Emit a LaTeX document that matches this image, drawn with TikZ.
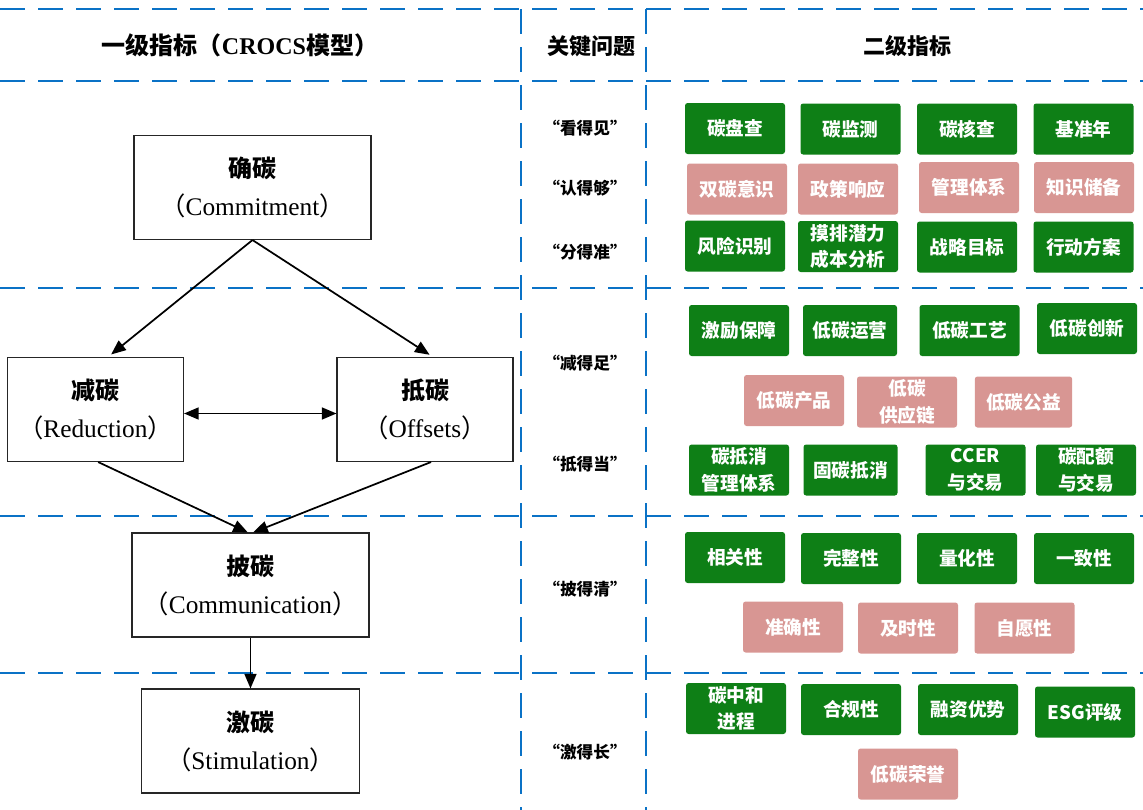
\documentclass[tikz,border=0pt]{standalone}
\usepackage{fontspec}
\setmainfont{Liberation Serif}
\newfontfamily\cjk{Noto Sans CJK SC}
\usetikzlibrary{arrows.meta}
\definecolor{lineblue}{RGB}{10,114,198}
\definecolor{gfill}{RGB}{14,127,22}
\definecolor{pfill}{RGB}{216,150,147}
\newcommand\zhb{\cjk\bfseries}
\newcommand\lpar{{\cjk （}}
\newcommand\rpar{{\cjk ）}}
\begin{document}
\begin{tikzpicture}[x=0.75pt,y=-0.75pt,
  dline/.style={draw=lineblue, line width=1.6pt, dash pattern=on 18.75pt off 9.75pt},
  lbox/.style={draw=black!85, line width=0.8pt, minimum width=#1, minimum height=78pt,
    align=center, inner sep=0pt, font=\fontsize{19}{28.5}\selectfont},
  gbox/.style={fill=gfill, rounded corners=2pt, minimum width=75pt, minimum height=38.25pt,
    align=center, inner sep=0pt, text=white, font=\zhb\fontsize{14}{20}\selectfont},
  pbox/.style={gbox, fill=pfill},
  qlab/.style={font=\zhb\fontsize{12.5}{15}\selectfont},
  head/.style={font=\zhb\fontsize{16.5}{20}\selectfont},
  arr/.style={line width=1.3pt, -{Triangle[length=11pt,width=9pt]}},
  dbl/.style={line width=1.3pt, {Triangle[length=11pt,width=9pt]}-{Triangle[length=11pt,width=9pt]}}
]
\useasboundingbox (0,0) rectangle (1143,810);

% dashed grid
\foreach \yy in {9,81,288,516,673}{\draw[dline] (0,\yy) -- (1143,\yy);}
\draw[dline] (521,9) -- (521,810);
\draw[dline] (646,9) -- (646,810);

% headers
\node[head, font=\zhb\fontsize{18}{22}\selectfont] (h1) at (240,45) {一级指标（{\rmfamily\bfseries CROCS}模型）};
\node[head] (h2) at (591,46) {关键问题};
\node[head] (h3) at (907.5,46) {二级指标};

% left CROCS model
\node[lbox=177.75pt] (C) at (252.5,187.5) {{\zhb\fontsize{18}{28.5}\selectfont 确碳}\\\lpar Commitment\rpar};
\node[lbox=132pt] (R) at (95.5,409.5) {{\zhb\fontsize{18}{28.5}\selectfont 减碳}\\\lpar Reduction\rpar};
\node[lbox=132pt] (O) at (425,409.5) {{\zhb\fontsize{18}{28.5}\selectfont 抵碳}\\\lpar Offsets\rpar};
\node[lbox=177.75pt] (M) at (250.5,585) {{\zhb\fontsize{18}{28.5}\selectfont 披碳}\\\lpar Communication\rpar};
\node[lbox=163.5pt] (S) at (250.5,741) {{\zhb\fontsize{18}{28.5}\selectfont 激碳}\\\lpar Stimulation\rpar};

\draw[arr, shorten >=3pt] (C.south) -- ([xshift=9.4pt]R.north);
\draw[arr, shorten >=3pt] (C.south) -- ([xshift=6pt]O.north);
\draw[dbl] ([yshift=-3pt]R.east) -- ([yshift=-3pt]O.west);
\draw[arr] ([xshift=2pt]R.south) -- ([xshift=-2pt]M.north);
\draw[arr] ([xshift=4.5pt]O.south) -- ([xshift=2pt]M.north);
\draw[arr] (M.south) -- (S.north);

% key questions
\node[qlab] (q1) at (585,128) {“看得见”};
\node[qlab] (q2) at (585,188) {“认得够”};
\node[qlab] (q3) at (585,252) {“分得准”};
\node[qlab] (q4) at (585,363) {“减得足”};
\node[qlab] (q5) at (585,464) {“抵得当”};
\node[qlab] (q6) at (585,589) {“披得清”};
\node[qlab] (q7) at (585,752) {“激得长”};

% section 1
\node[gbox] (a1) at (735,128.5) {碳盘查};
\node[gbox] (a2) at (850.5,129) {碳监测};
\node[gbox] (a3) at (967,129) {碳核查};
\node[gbox] (a4) at (1083.5,129) {基准年};
\node[pbox] (b1) at (737,189) {双碳意识};
\node[pbox] (b2) at (848,189) {政策响应};
\node[pbox] (b3) at (969,187.5) {管理体系};
\node[pbox] (b4) at (1084,187.5) {知识储备};
\node[gbox] (c1) at (735,246) {风险识别};
\node[gbox] (c2) at (848,246.5) {摸排潜力\\成本分析};
\node[gbox] (c3) at (967,247) {战略目标};
\node[gbox] (c4) at (1083.5,247) {行动方案};

% section 2
\node[gbox] (d1) at (739,330.5) {激励保障};
\node[gbox, minimum width=70.5pt] (d2) at (850,330.5) {低碳运营};
\node[gbox] (d3) at (969.5,330.5) {低碳工艺};
\node[gbox] (d4) at (1087,328.5) {低碳创新};
\node[pbox] (e1) at (794,400.5) {低碳产品};
\node[pbox] (e2) at (907,402) {低碳\\供应链};
\node[pbox, minimum width=73pt] (e3) at (1023.5,402) {低碳公益};
\node[gbox] (f1) at (739,470) {碳抵消\\管理体系};
\node[gbox, minimum width=70.5pt] (f2) at (850.5,470) {固碳抵消};
\node[gbox] (f3) at (975.5,470) {CCER\\与交易};
\node[gbox] (f4) at (1086,470) {碳配额\\与交易};

% section 3
\node[gbox] (g1) at (735,557.5) {相关性};
\node[gbox] (g2) at (851,558.5) {完整性};
\node[gbox] (g3) at (967,558.5) {量化性};
\node[gbox] (g4) at (1084,558.5) {一致性};
\node[pbox] (h4) at (793,627) {准确性};
\node[pbox] (h5) at (908,628) {及时性};
\node[pbox] (h6) at (1024.5,628) {自愿性};

% section 4
\node[gbox] (k1) at (736,708.5) {碳中和\\进程};
\node[gbox] (k2) at (851,709.5) {合规性};
\node[gbox] (k3) at (968,709.5) {融资优势};
\node[gbox] (k4) at (1085,712) {ESG评级};
\node[pbox] (l1) at (908,774) {低碳荣誉};
\end{tikzpicture}
\end{document}
